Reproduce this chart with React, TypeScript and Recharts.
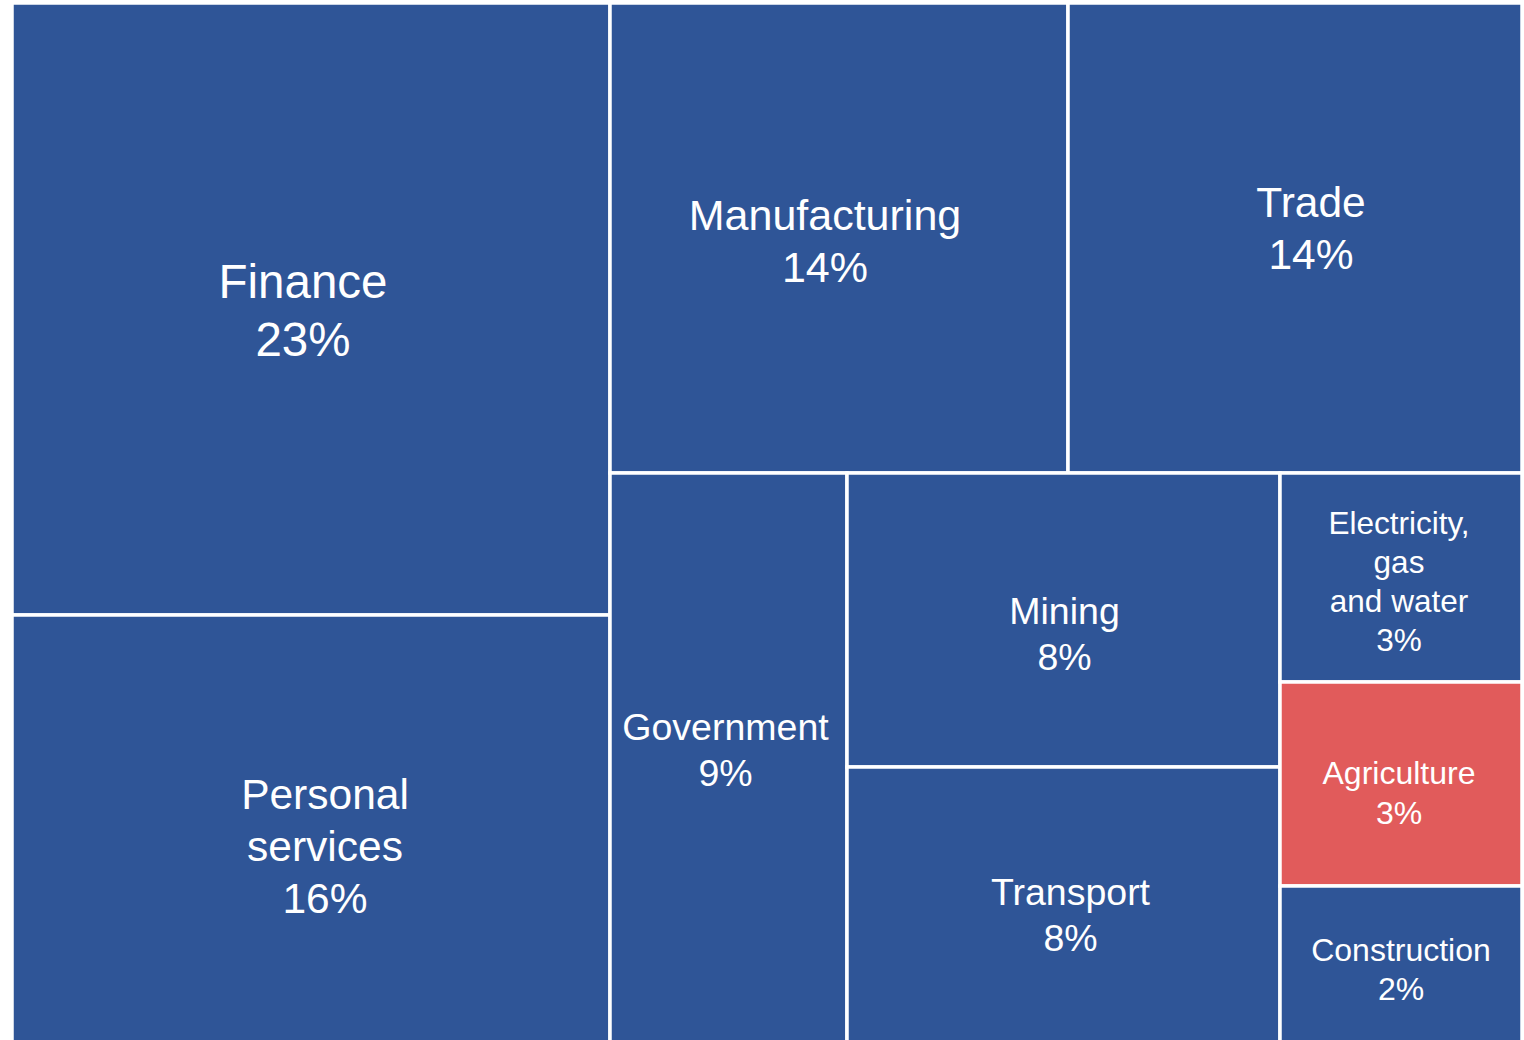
import { Treemap } from 'recharts'

const BLUE = '#2F5597'
const RED = '#E15B5B'
const FONT = '"Liberation Sans", Arial, sans-serif'

// share of output, per cent (labels show the rounded figure)
const SECTORS = [
  'Finance',
  'Personal services',
  'Manufacturing',
  'Trade',
  'Government',
  'Mining',
  'Transport',
  'Electricity, gas and water',
  'Agriculture',
  'Construction',
]
const SHARES = [23.3, 16.3, 13.7, 13.6, 8.6, 8.1, 7.6, 3.22, 3.14, 2.44]
const HIGHLIGHT = 'Agriculture'

const LINE_BREAKS: Record<string, string[]> = {
  'Personal services': ['Personal', 'services'],
  'Electricity, gas and water': ['Electricity,', 'gas', 'and water'],
}

// font size + nudges, the labels in the original were placed by hand
const LABEL_STYLE: Record<string, { size: number; dx: number; dy: number }> = {
  Finance: { size: 47.5, dx: -8, dy: 1 },
  'Personal services': { size: 42.5, dx: 14, dy: 17 },
  Manufacturing: { size: 43, dx: -14, dy: 3 },
  Trade: { size: 42.5, dx: 16, dy: -10 },
  Government: { size: 37.5, dx: -3, dy: -8 },
  Mining: { size: 37.5, dx: 1, dy: 14 },
  Transport: { size: 37.5, dx: 7, dy: 10 },
  'Electricity, gas and water': { size: 31.5, dx: -2, dy: 4 },
  Agriculture: { size: 32, dx: -2, dy: 9 },
  Construction: { size: 32, dx: 0, dy: 5 },
}

const data = SECTORS.map((name, i) => ({ name, value: SHARES[i] }))

function SectorCell(props: any) {
  const { x, y, width, height, depth, name, value } = props
  if (depth !== 1) return <g />

  const style = LABEL_STYLE[name] ?? { size: 32, dx: 0, dy: 0 }
  const lines = [...(LINE_BREAKS[name] ?? [name]), `${Math.round(value)}%`]
  const lh = style.size * 1.23
  const cx = x + width / 2 + style.dx
  const cy = y + height / 2 + style.dy

  return (
    <g>
      <rect
        x={x}
        y={y}
        width={width}
        height={height}
        fill={name === HIGHLIGHT ? RED : BLUE}
        stroke="#fff"
        strokeWidth={3.5}
      />
      <text
        x={cx}
        textAnchor="middle"
        dominantBaseline="central"
        fill="#fff"
        fontFamily={FONT}
        fontSize={style.size}
      >
        {lines.map((line, i) => (
          <tspan key={i} x={cx} y={cy + (i - (lines.length - 1) / 2) * lh}>
            {line}
          </tspan>
        ))}
      </text>
    </g>
  )
}

export default function App() {
  return (
    <div style={{ position: 'fixed', inset: 0, overflow: 'hidden', background: '#fff' }}>
      <div style={{ position: 'absolute', left: 12, top: 3 }}>
        <Treemap
          width={1510}
          height={1040}
          data={data}
          dataKey="value"
          nameKey="name"
          aspectRatio={0.81}
          isAnimationActive={false}
          content={<SectorCell />}
        />
      </div>
    </div>
  )
}
